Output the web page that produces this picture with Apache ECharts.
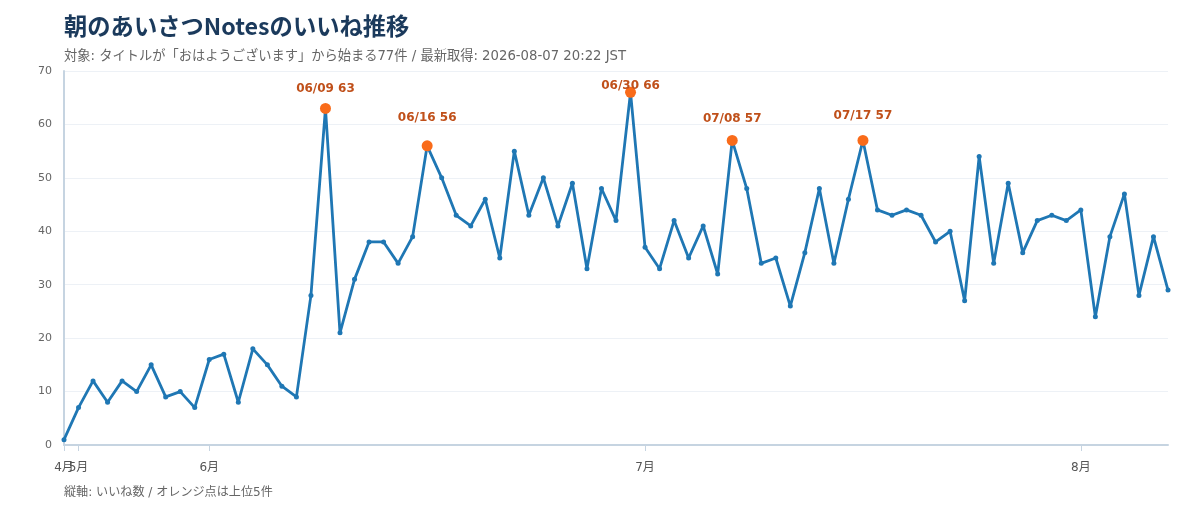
<!DOCTYPE html>
<html>
<head>
<meta charset="utf-8">
<script src="https://cdn.jsdelivr.net/npm/echarts@6/dist/echarts.min.js"></script>
<style>
html,body{margin:0;padding:0;background:#fff;}
#chart{width:1200px;height:520px;}
</style>
</head>
<body>
<div id="chart"></div>
<script>
// ---- data ----
const dates = [
  "04/28","05/02","05/06","05/09","05/13","05/16","05/20","05/23","05/27","05/30",
  "06/01","06/02","06/03","06/04","06/05","06/06","06/07","06/08","06/09","06/10",
  "06/11","06/12","06/13","06/14","06/15","06/16","06/17","06/18","06/19","06/20",
  "06/21","06/22","06/23","06/24","06/25","06/26","06/27","06/28","06/29","06/30",
  "07/01","07/02","07/03","07/05","07/06","07/07","07/08","07/09","07/10","07/11",
  "07/12","07/13","07/14","07/15","07/16","07/17","07/18","07/19","07/20","07/21",
  "07/22","07/23","07/24","07/25","07/26","07/27","07/28","07/29","07/30","07/31",
  "08/01","08/02","08/03","08/04","08/05","08/06","08/07"
];
const likes = [
  1,7,12,8,12,10,15,9,10,7,
  16,17,8,18,15,11,9,28,63,21,
  31,38,38,34,39,56,50,43,41,46,
  35,55,43,50,41,49,33,48,42,66,
  37,33,42,35,41,32,57,48,34,35,
  26,36,48,34,46,57,44,43,44,43,
  38,40,27,54,34,49,36,42,43,42,
  44,24,39,47,28,39,29
];
const yTicks = [0,10,20,30,40,50,60,70];
const titleText = "朝のあいさつNotesのいいね推移";
const subText = "対象: タイトルが「おはようございます」から始まる77件 / 最新取得: 2026-08-07 20:22 JST";
const noteText = "縦軸: いいね数 / オレンジ点は上位5件";
const topN = 5;

// ---- styles ----
const labelDist = {"06/09": 8, "06/16": 16, "06/30": -5, "07/08": 10, "07/17": 13};
const TFONT = "'Noto Sans CJK JP','Noto Sans',sans-serif";
const FONT = "'DejaVu Sans','Noto Sans CJK JP',sans-serif";
const AXIS_C = '#c6d4e1';

// ---- build ----
const monthStart = dates.map((d, i) => i === 0 || d.slice(0,2) !== dates[i-1].slice(0,2));
const ranked = likes.map((v, i) => ({v, i})).sort((a, b) => b.v - a.v || a.i - b.i).slice(0, topN);
const topData = ranked.sort((a,b)=>a.i-b.i).map(o => ({
  value: [dates[o.i], o.v],
  label: {distance: labelDist[dates[o.i]] !== undefined ? labelDist[dates[o.i]] : 10}
}));
const monthFmt = (v) => parseInt(v.slice(0,2), 10) + '月';
const xLabelStyle = {color: '#555555', fontSize: 12, margin: 17, hideOverlap: false, formatter: monthFmt};

const chart = echarts.init(document.getElementById('chart'), null, {renderer: 'canvas'});
chart.setOption({
  backgroundColor: '#ffffff',
  animation: false,
  textStyle: {fontFamily: FONT},
  title: [
    {text: titleText, left: 64, top: 15, padding: 0,
     textStyle: {fontSize: 23.3, fontWeight: 'bold', color: '#1b3a5c', fontFamily: TFONT}},
    {text: subText, left: 64, top: 50, padding: 0,
     textStyle: {fontSize: 13.25, fontWeight: 'normal', color: '#666666', fontFamily: FONT}},
    {text: noteText, left: 64, top: 487, padding: 0,
     textStyle: {fontSize: 12.1, fontWeight: 'normal', color: '#666666', fontFamily: FONT}}
  ],
  grid: {left: 64, right: 32, top: 71, bottom: 75, containLabel: false},
  xAxis: [
    {
      type: 'category',
      data: dates,
      boundaryGap: false,
      position: 'bottom',
      axisLine: {lineStyle: {color: AXIS_C, width: 2}},
      axisTick: {
        show: true, length: 6,
        interval: (i) => i > 0 && monthStart[i],
        lineStyle: {color: AXIS_C, width: 1}
      },
      axisLabel: Object.assign({interval: (i) => i > 0 && monthStart[i]}, xLabelStyle),
      splitLine: {show: false}
    },
    {
      type: 'category',
      data: dates,
      boundaryGap: false,
      position: 'bottom',
      offset: 0,
      axisLine: {show: false},
      axisTick: {
        show: true, length: 6,
        interval: (i) => i === 0,
        lineStyle: {color: AXIS_C, width: 1}
      },
      axisLabel: Object.assign({interval: (i) => i === 0, showMinLabel: true}, xLabelStyle),
      splitLine: {show: false}
    }
  ],
  yAxis: {
    type: 'value',
    min: yTicks[0], max: yTicks[yTicks.length-1], interval: 10,
    axisLine: {show: true, lineStyle: {color: AXIS_C, width: 2}},
    axisTick: {show: false},
    axisLabel: {color: '#666666', fontSize: 11, margin: 12},
    splitLine: {lineStyle: {color: '#edf1f6', width: 1}}
  },
  series: [
    {
      type: 'line',
      xAxisIndex: 0,
      data: likes,
      lineStyle: {color: '#1f77b4', width: 2.8},
      itemStyle: {color: '#1f77b4'},
      symbol: 'circle',
      symbolSize: 5,
      showAllSymbol: true,
      z: 2
    },
    {
      type: 'scatter',
      xAxisIndex: 0,
      data: topData,
      symbol: 'circle',
      symbolSize: 11,
      itemStyle: {color: '#f96b1a', opacity: 1},
      label: {
        show: true, position: 'top',
        formatter: (p) => p.value[0] + ' ' + p.value[1],
        color: '#c0501a', fontWeight: 'bold', fontSize: 12, fontFamily: FONT
      },
      z: 5
    }
  ]
});
</script>
</body>
</html>
